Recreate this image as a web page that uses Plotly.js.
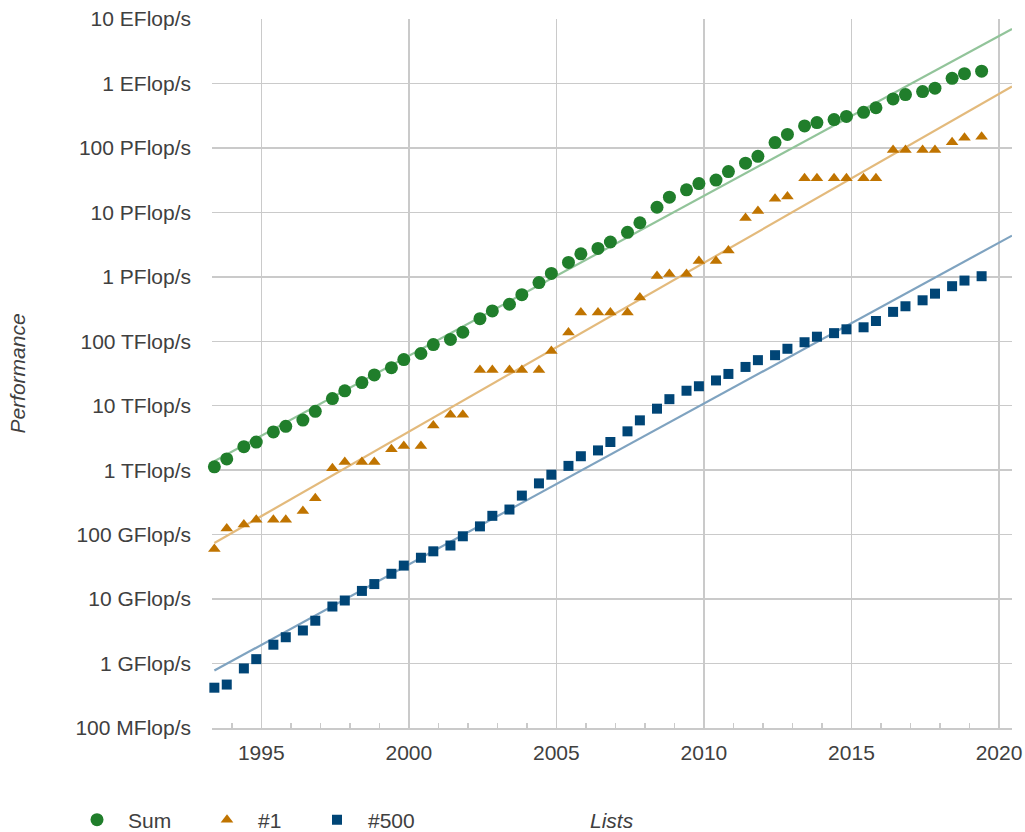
<!DOCTYPE html>
<html>
<head>
<meta charset="utf-8">
<script src="https://cdn.plot.ly/plotly-3.0.1.min.js"></script>
<style>html,body{margin:0;padding:0;background:#fff;}#chart{width:1025px;height:832px;}</style>
</head>
<body>
<div id="chart"></div>
<script>
// TOP500 lists (June / November), as fractional years
const listDates = [
  1993.41, 1993.83, 1994.41, 1994.83, 1995.41, 1995.83, 1996.41, 1996.83, 1997.41, 1997.83,
  1998.41, 1998.83, 1999.41, 1999.83, 2000.41, 2000.83, 2001.41, 2001.83, 2002.41, 2002.83,
  2003.41, 2003.83, 2004.41, 2004.83, 2005.41, 2005.83, 2006.41, 2006.83, 2007.41, 2007.83,
  2008.41, 2008.83, 2009.41, 2009.83, 2010.41, 2010.83, 2011.41, 2011.83, 2012.41, 2012.83,
  2013.41, 2013.83, 2014.41, 2014.83, 2015.41, 2015.83, 2016.41, 2016.83, 2017.41, 2017.83,
  2018.41, 2018.83, 2019.41
];

// Performance in GFlop/s
const sumGF = [
  1128.6, 1493.4, 2317, 2732, 3927, 4784, 5995, 8200, 12900, 17000,
  22900, 30100, 38900, 52000, 64600, 89000, 107000, 138000, 224000, 296000,
  375000, 528000, 813000, 1130000, 1670000, 2270000, 2760000, 3470000, 4900000, 6900000,
  12000000, 17200000, 22400000, 28000000, 31700000, 43000000, 58000000, 74000000, 121000000, 162000000,
  219000000, 247000000, 275000000, 308000000, 357000000, 420000000, 575000000, 672000000, 747000000, 845000000,
  1200000000, 1420000000, 1550000000
];

const firstGF = [
  59.7, 124, 143.4, 170, 170, 170, 232.4, 368.2, 1068, 1338,
  1338, 1338, 2121, 2379, 2379, 4938, 7226, 7226, 35860, 35860,
  35860, 35860, 35860, 70720, 136800, 280600, 280600, 280600, 280600, 478200,
  1026000, 1105000, 1105000, 1759000, 1759000, 2566000, 8162000, 10510000, 16325000, 17590000,
  33863000, 33863000, 33863000, 33863000, 33863000, 33863000, 93015000, 93015000, 93015000, 93015000,
  122300000, 143500000, 148600000
];

const lastGF = [
  0.422, 0.472, 0.84, 1.17, 1.96, 2.56, 3.26, 4.62, 7.67, 9.51,
  13.39, 17.1, 24.7, 33.1, 43.8, 55.1, 67.8, 94.3, 134.3, 195.8,
  245.1, 403.4, 624, 850.6, 1166, 1646, 2026, 2737, 4005, 5929,
  9000, 12640, 17090, 20050, 24670, 31120, 39980, 50940, 60820, 76500,
  96620, 117800, 133700, 153400, 164800, 206300, 285900, 349300, 432200, 548000,
  715600, 874800, 1022000
];

// Trend line end points, GFlop/s
const trendX = [1993.41, 2020.44];
const trendSum = [1380, 7.0e9];
const trendFirst = [74, 8.98e8];
const trendLast = [0.78, 4.36e6];

// Axis ticks
const yTickVals = [0.1, 1, 10, 100, 1e3, 1e4, 1e5, 1e6, 1e7, 1e8, 1e9, 1e10];
const yTickText = ['100 MFlop/s', '1 GFlop/s', '10 GFlop/s', '100 GFlop/s', '1 TFlop/s', '10 TFlop/s',
  '100 TFlop/s', '1 PFlop/s', '10 PFlop/s', '100 PFlop/s', '1 EFlop/s', '10 EFlop/s'];
const xTickVals = [1995, 2000, 2005, 2010, 2015, 2020];

const cGreen = '#207e2b', cOrange = '#c07400', cBlue = '#004576';
const tGreen = '#92c49a', tOrange = '#e3ba7c', tBlue = '#7fa3c0';

const traces = [
  {x: trendX, y: trendSum, mode: 'lines', line: {color: tGreen, width: 2.2}, showlegend: false, hoverinfo: 'skip'},
  {x: trendX, y: trendFirst, mode: 'lines', line: {color: tOrange, width: 2.2}, showlegend: false, hoverinfo: 'skip'},
  {x: trendX, y: trendLast, mode: 'lines', line: {color: tBlue, width: 2.2}, showlegend: false, hoverinfo: 'skip'},
  {x: listDates, y: sumGF, name: 'Sum', mode: 'markers', cliponaxis: false, legend: 'legend',
   marker: {symbol: 'circle', size: 13, color: cGreen}},
  {x: listDates, y: firstGF, name: '#1', mode: 'markers', cliponaxis: false, legend: 'legend2',
   marker: {symbol: 'triangle-up', size: 11, color: cOrange}},
  {x: listDates, y: lastGF, name: '#500', mode: 'markers', cliponaxis: false, legend: 'legend3',
   marker: {symbol: 'square', size: 10, color: cBlue}}
];

const fontFam = '"Liberation Sans", Arial, sans-serif';
const legendBase = {orientation: 'h', xref: 'container', yref: 'container', xanchor: 'left',
  yanchor: 'middle', y: 1 - 820 / 832, itemwidth: 52, bgcolor: 'rgba(0,0,0,0)',
  font: {family: fontFam, size: 21, color: '#404040'}};

const layout = {
  width: 1025, height: 832,
  margin: {l: 212, r: 13, t: 19, b: 104, autoexpand: false},
  paper_bgcolor: '#ffffff', plot_bgcolor: 'rgba(0,0,0,0)',
  font: {family: fontFam, size: 21, color: '#404040'},
  showlegend: true,
  legend: Object.assign({}, legendBase, {x: 66 / 1025}),
  legend2: Object.assign({}, legendBase, {x: 196 / 1025}),
  legend3: Object.assign({}, legendBase, {x: 306 / 1025}),
  xaxis: {
    range: [1993.33, 2020.44], tickvals: xTickVals, ticktext: xTickVals.map(String),
    showgrid: true, gridcolor: '#cacaca', gridwidth: 1.5,
    zeroline: false, showline: true, linecolor: '#cacaca', linewidth: 1.5,
    ticks: '', ticklabelstandoff: 5,
    minor: {dtick: 1, tick0: 1990, ticks: 'inside', ticklen: 5, tickcolor: '#cacaca', tickwidth: 1.5, showgrid: false}
  },
  yaxis: {
    type: 'log', range: [-1, 10], tickvals: yTickVals, ticktext: yTickText,
    showgrid: true, gridcolor: '#cacaca', gridwidth: 1.5,
    zeroline: false, showline: false, ticks: '', ticklabelstandoff: 20,
    title: {text: '<i>Performance</i>', font: {size: 21, color: '#404040'}, standoff: 44}
  },
  annotations: [
    {text: '<i>Lists</i>', xref: 'paper', x: 0.5, xanchor: 'center',
     yref: 'paper', y: -92 / 709, yanchor: 'middle', showarrow: false,
     font: {family: fontFam, size: 21, color: '#404040'}}
  ]
};

Plotly.newPlot('chart', traces, layout, {displayModeBar: false, staticPlot: true});
</script>
</body>
</html>
